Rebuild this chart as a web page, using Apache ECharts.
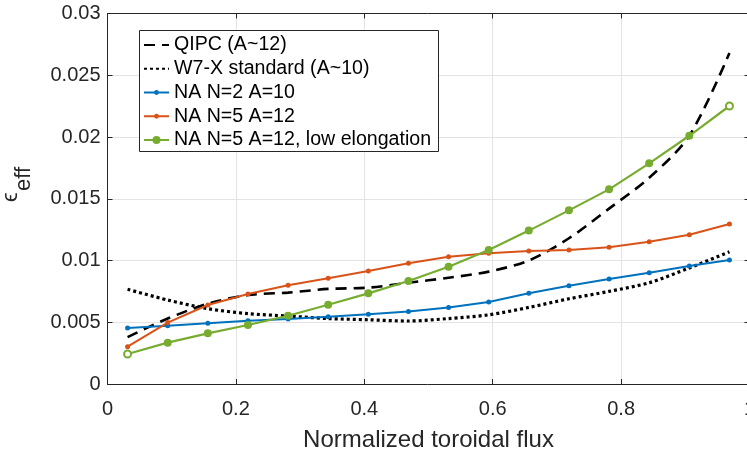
<!DOCTYPE html>
<html>
<head>
<meta charset="utf-8">
<script src="https://cdn.jsdelivr.net/npm/echarts@6/dist/echarts.min.js"></script>
<style>
html,body{margin:0;padding:0;background:#fff;}
#c{width:747px;height:453px;}
</style>
</head>
<body>
<div id="c"></div>
<script>
const xFlux = [0.03125, 0.09375, 0.15625, 0.21875, 0.28125, 0.34375, 0.40625, 0.46875,
               0.53125, 0.59375, 0.65625, 0.71875, 0.78125, 0.84375, 0.90625, 0.96875];
const qipc = [0.0038, 0.0053, 0.0065, 0.0072, 0.0074, 0.0077, 0.0078, 0.0082,
              0.0086, 0.0091, 0.0100, 0.0118, 0.0142, 0.0167, 0.0201, 0.0268];
const w7x = [0.00767, 0.0068, 0.0061, 0.0057, 0.0055, 0.0053, 0.0052, 0.0051,
             0.0053, 0.0056, 0.0062, 0.0069, 0.0075, 0.0082, 0.0094, 0.0107];
const naN2 = [0.00453, 0.00472, 0.00491, 0.00513, 0.00526, 0.00545, 0.00564, 0.00588,
              0.0062, 0.00664, 0.00734, 0.00796, 0.0085, 0.00901, 0.00955, 0.01004];
const naN5 = [0.00302, 0.00497, 0.0064, 0.00729, 0.00799, 0.00856, 0.00915, 0.00977,
              0.01031, 0.01058, 0.01077, 0.01085, 0.01107, 0.01152, 0.01209, 0.01296];
const naN5low = [0.00243, 0.00335, 0.0041, 0.00478, 0.00553, 0.00642, 0.00734, 0.00834,
                 0.0095, 0.01085, 0.01242, 0.01406, 0.01576, 0.01787, 0.0201, 0.02251];
const seriesNames = ['QIPC (A~12)', 'W7-X standard (A~10)', 'NA N=2 A=10', 'NA N=5 A=12', 'NA N=5 A=12, low elongation'];
const xTicks = [0, 0.2, 0.4, 0.6, 0.8, 1];
const yTicks = [0, 0.005, 0.01, 0.015, 0.02, 0.025, 0.03];

const FONT = 'Liberation Sans';
const AX = '#262626';
const pts = v => xFlux.map((x, i) => [x, v[i]]);

const chart = echarts.init(document.getElementById('c'), null, {renderer: 'canvas'});
const baseX = {
  type: 'value', min: xTicks[0], max: xTicks[xTicks.length - 1], interval: 0.2,
  axisLine: {show: true, onZero: false, lineStyle: {color: AX, width: 1}},
  axisTick: {show: true, inside: true, length: 5, lineStyle: {color: AX}},
  splitLine: {show: false}
};
const baseY = {
  type: 'value', min: yTicks[0], max: yTicks[yTicks.length - 1], interval: 0.005,
  axisLine: {show: true, onZero: false, lineStyle: {color: AX, width: 1}},
  axisTick: {show: true, inside: true, length: 5, lineStyle: {color: AX}},
  splitLine: {show: false}
};
const green = '#77AC30';
const legendBase = {
  show: true, orient: 'vertical', left: 143, padding: 0,
  itemGap: 3.75, itemWidth: 25,
  textStyle: {fontFamily: FONT, fontSize: 19.6, color: '#000', lineHeight: 20},
  selectedMode: false, z: 6
};
chart.setOption({
  animation: false,
  backgroundColor: '#fff',
  grid: {left: 107.5, width: 642, top: 13.5, bottom: 69, containLabel: false, outerBoundsMode: 'none'},
  xAxis: [
    Object.assign({}, baseX, {
      position: 'bottom',
      splitLine: {show: true, lineStyle: {color: '#e3e3e3', width: 1}},
      axisLabel: {fontFamily: FONT, fontSize: 20, color: AX, margin: 15},
      name: 'Normalized toroidal flux', nameLocation: 'middle', nameGap: 44,
      nameTextStyle: {fontFamily: FONT, fontSize: 24, color: AX}
    }),
    Object.assign({}, baseX, {position: 'top', axisLabel: {show: false}})
  ],
  yAxis: [
    Object.assign({}, baseY, {
      position: 'left',
      splitLine: {show: true, lineStyle: {color: '#e3e3e3', width: 1}},
      axisLabel: {fontFamily: FONT, fontSize: 20, color: AX, margin: 7}
    }),
    Object.assign({}, baseY, {position: 'right', axisLabel: {show: false}})
  ],
  legend: [
    Object.assign({}, legendBase, {
      top: 35, itemHeight: 10,
      data: [{name: seriesNames[0], itemStyle: {opacity: 0}}, {name: seriesNames[1], itemStyle: {opacity: 0}}]
    }),
    Object.assign({}, legendBase, {
      top: 82.5, itemHeight: 6,
      data: [seriesNames[2], seriesNames[3]]
    }),
    Object.assign({}, legendBase, {
      top: 130, itemHeight: 10,
      data: [seriesNames[4]]
    })
  ],
  graphic: [
    {
      type: 'rect', z: 5, shape: {x: 139.5, y: 30.5, width: 299, height: 121},
      style: {fill: '#fff', stroke: AX, lineWidth: 1}
    },
    {
      type: 'group', x: 3, y: 202, rotation: Math.PI / 2, z: 5,
      children: [
        {type: 'text', x: 0, y: -3, style: {text: 'ϵ', font: '22px "Liberation Sans"', fill: AX, verticalAlign: 'top'}},
        {type: 'text', x: 11, y: 10, style: {text: 'eff', font: '22px "Liberation Sans"', fill: AX, verticalAlign: 'top'}}
      ]
    }
  ],
  series: [
    {
      name: seriesNames[0], type: 'line', data: pts(qipc), smooth: 0.3, symbol: 'none',
      lineStyle: {color: '#000', width: 2.6, type: [11, 7]}, itemStyle: {color: '#000'}
    },
    {
      name: seriesNames[1], type: 'line', data: pts(w7x), smooth: 0.3, symbol: 'none',
      lineStyle: {color: '#000', width: 3.2, type: [3, 3]}, itemStyle: {color: '#000'}
    },
    {
      name: seriesNames[2], type: 'line', data: pts(naN2), symbol: 'circle', symbolSize: 5,
      lineStyle: {color: '#0072BD', width: 2}, itemStyle: {color: '#0072BD'}
    },
    {
      name: seriesNames[3], type: 'line', data: pts(naN5), symbol: 'circle', symbolSize: 5,
      lineStyle: {color: '#D95319', width: 2}, itemStyle: {color: '#D95319'}
    },
    {
      name: seriesNames[4], type: 'line',
      data: pts(naN5low).map((p, i, a) => (i === 0 || i === a.length - 1)
        ? {value: p, symbol: 'emptyCircle', symbolSize: 7, itemStyle: {color: green, borderWidth: 2.2}}
        : {value: p}),
      symbol: 'circle', symbolSize: 8,
      lineStyle: {color: green, width: 2.2}, itemStyle: {color: green}
    }
  ]
});
</script>
</body>
</html>
